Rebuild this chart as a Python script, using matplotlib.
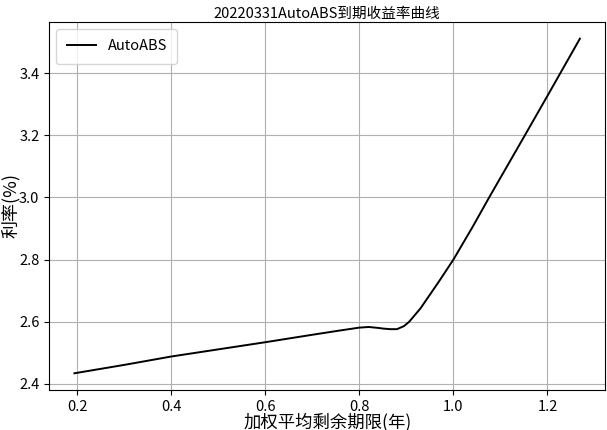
import numpy as np
import matplotlib
matplotlib.use('Agg')
import matplotlib.pyplot as plt

plt.rcParams['font.family'] = ['Noto Sans CJK SC', 'DejaVu Sans']
plt.rcParams['axes.unicode_minus'] = False

# 加权平均剩余期限(年) vs 到期收益率(%)
term = [0.194, 0.30, 0.40, 0.50, 0.60, 0.70, 0.76, 0.80, 0.82, 0.84,
        0.85, 0.865, 0.88, 0.895, 0.906, 0.93, 0.969, 1.00, 1.04, 1.076,
        1.152, 1.20, 1.227, 1.269]
rate = [2.434, 2.461, 2.488, 2.511, 2.534, 2.558, 2.572, 2.581, 2.583, 2.580,
        2.578, 2.576, 2.576, 2.586, 2.600, 2.643, 2.729, 2.800, 2.903, 3.000,
        3.200, 3.327, 3.399, 3.511]

fig = plt.figure(figsize=(6.07, 4.30), dpi=100)
ax = fig.add_subplot(111)
fig.subplots_adjust(left=0.081, right=0.997, top=0.949, bottom=0.093)

ax.plot(term, rate, color='black', lw=1.4, label='AutoABS')
ax.grid(True)
ax.set_title('20220331AutoABS到期收益率曲线', fontsize=10.5, pad=3)
ax.set_xlabel('加权平均剩余期限(年)', fontsize=12.5)
ax.set_ylabel('利率(%)', fontsize=13)
ax.xaxis.label.set_va('center')
ax.xaxis.set_label_coords(0.5, -0.086)
ax.yaxis.label.set_va('center')
ax.yaxis.label.set_ha('center')
ax.yaxis.set_label_coords(-0.070, 0.5)
ax.tick_params(labelsize=10.5)
ax.legend(loc='upper left', fontsize=10.5, borderpad=0.7)

fig.savefig('out.png', dpi=100)
